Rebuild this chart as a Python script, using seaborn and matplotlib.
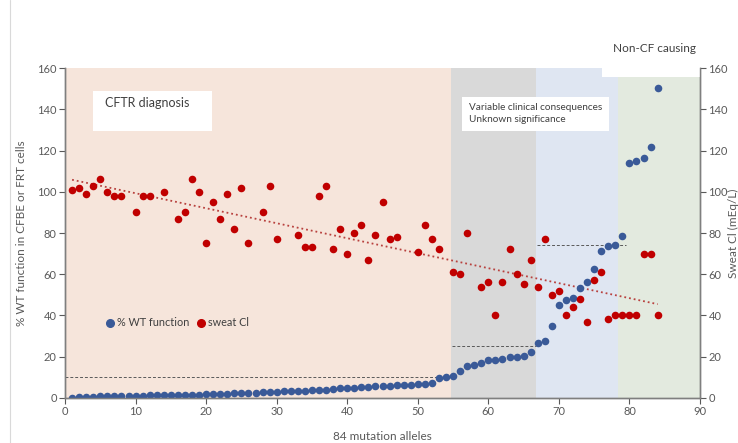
import numpy as np
import pandas as pd
import matplotlib
matplotlib.use("Agg")
import matplotlib.pyplot as plt
from matplotlib.patches import Rectangle
from matplotlib.lines import Line2D
import seaborn as sns

# values
alleles = list(range(1, 85))
wt_function = [0.0, 0.2, 0.4, 0.5, 0.6, 0.7, 0.8, 0.8, 0.9, 0.9,
               1.0, 1.1, 1.1, 1.2, 1.2, 1.3, 1.3, 1.4, 1.5, 1.6,
               1.8, 1.9, 2.0, 2.1, 2.2, 2.4, 2.5, 2.6, 2.8, 3.0,
               3.1, 3.2, 3.4, 3.4, 3.6, 3.7, 3.9, 4.2, 4.5, 4.7,
               4.9, 5.0, 5.3, 5.5, 5.7, 5.8, 6.0, 6.1, 6.3, 6.5,
               6.6, 7.3, 9.5, 10.0, 10.5, 12.9, 15.2, 15.9, 17.0, 18.1,
               18.4, 18.9, 19.7, 19.9, 20.4, 22.3, 26.4, 27.5, 34.6, 44.8,
               47.4, 48.4, 53.1, 56.1, 62.3, 71.2, 73.6, 74.4, 78.6, 113.8,
               115.0, 116.2, 122.0, 150.3]

sweat_x = [1, 2, 3, 4, 5, 6, 7, 8, 10, 11, 12, 14, 16, 17, 18, 19, 20, 21,
           22, 23, 24, 25, 26, 28, 29, 30, 33, 34, 35, 36, 37, 38, 39, 40,
           41, 42, 43, 44, 45, 46, 47, 50, 51, 52, 53, 55, 56, 57, 59, 60,
           61, 62, 63, 64, 65, 66, 67, 68, 69, 70, 71, 72, 73, 74, 75, 76,
           77, 78, 79, 80, 81, 82, 83, 84]
sweat_cl = [101, 102, 99, 103, 106, 100, 98, 98, 90, 98, 98, 100, 87, 90,
            106, 100, 75, 95, 87, 99, 82, 102, 75, 90, 103, 77, 79, 73, 73,
            98, 103, 72, 82, 70, 80, 84, 67, 79, 95, 77, 78, 71, 84, 77,
            72, 61, 60, 80, 54, 56, 40, 56, 72, 60, 55, 67, 54, 77, 50, 52,
            40, 44, 48, 37, 57, 61, 38, 40, 40, 40, 40, 70, 70, 40]

# shaded zones and threshold lines
zone_edges = [0, 54.7, 66.8, 78.4, 90]
zone_colors = ["#F6E5DB", "#D9D9D9", "#DFE6F2", "#E3EADF"]
thresh_y = [10, 25, 74]
thresh_start = [0, 54.9, 66.9]
thresh_end = [53, 66.8, 79.5]

wt_df = pd.DataFrame({"allele": alleles, "wt": wt_function})
cl_df = pd.DataFrame({"allele": sweat_x, "cl": sweat_cl})

sns.set_style("white")
plt.rcParams["font.family"] = ["Lato", "DejaVu Sans"]
grey_txt = "#595959"

fig = plt.figure(figsize=(7.38, 4.43), dpi=100)
ax = fig.add_axes([0.0881, 0.1022, 0.8604, 0.7436])

for i in range(len(zone_colors)):
    ax.axvspan(zone_edges[i], zone_edges[i + 1], color=zone_colors[i], lw=0, zorder=0)

ax.hlines(thresh_y, thresh_start, thresh_end, colors="#595959",
          linestyles=(0, (3, 2)), linewidth=0.7, zorder=1)

sns.regplot(data=cl_df, x="allele", y="cl", ax=ax, scatter=False, ci=None,
            color="#B8413E", line_kws={"linestyle": ":", "linewidth": 1.3, "zorder": 2})

sns.scatterplot(data=wt_df, x="allele", y="wt", ax=ax, color="#3A5A98",
                s=30, linewidth=0, zorder=3)
sns.scatterplot(data=cl_df, x="allele", y="cl", ax=ax, color="#C00000",
                s=30, linewidth=0, zorder=3)

ax.set_xlim(0, 90)
ax.set_ylim(0, 160)
ax.set_xticks(range(0, 91, 10))
ax.set_yticks(range(0, 161, 20))
ax.set_xlabel("84 mutation alleles", fontsize=8.5, color=grey_txt)
ax.xaxis.set_label_coords(0.5, -0.119)
ax.xaxis.label.set_va("center")
ax.set_ylabel("% WT function in CFBE or FRT cells", fontsize=8.5, color=grey_txt)
ax.yaxis.set_label_coords(-0.068, 0.5)
ax.yaxis.label.set_va("center")

ax2 = ax.twinx()
ax2.set_ylim(0, 160)
ax2.set_yticks(range(0, 161, 20))
ax2.set_ylabel("Sweat Cl (mEq/L)", fontsize=8.5, color=grey_txt)
ax2.yaxis.set_label_coords(1.052, 0.5)
ax2.yaxis.label.set_va("center")

for a in (ax, ax2):
    a.tick_params(axis="both", labelsize=8, colors=grey_txt, length=4, width=0.8,
                  direction="out", pad=2)
    a.spines["top"].set_visible(False)
    for s in ("left", "right", "bottom"):
        a.spines[s].set_color("#7F7F7F")
        a.spines[s].set_linewidth(1.0)
ax.tick_params(axis="x", bottom=True)
ax.tick_params(axis="y", left=True)
ax2.tick_params(axis="y", right=True)

# text boxes
ax.add_patch(Rectangle((4.0, 129.5), 16.8, 19.4, fc="white", ec="none", zorder=4))
ax.text(5.7, 143, "CFTR diagnosis", fontsize=9, color="#404040", va="center", zorder=5)

ax.add_patch(Rectangle((56.3, 129.5), 20.8, 16.6, fc="white", ec="none", zorder=4))
ax.text(57.3, 141.1, "Variable clinical consequences", fontsize=7.2, color="#404040",
        va="center", zorder=5)
ax.text(57.3, 135.3, "Unknown significance", fontsize=7.2, color="#404040",
        va="center", zorder=5)

ax.add_patch(Rectangle((76.1, 155.8), 13.9, 6, fc="white", ec="none", zorder=4, clip_on=False))
ax.text(83.5, 169.8, "Non-CF causing", fontsize=8.5, color="#404040",
        ha="center", va="center", clip_on=False)

handles = [Line2D([], [], marker="o", ls="", color="#3A5A98", markersize=5.5),
           Line2D([], [], marker="o", ls="", color="#C00000", markersize=5.5)]
ax.legend(handles, ["% WT function", "sweat Cl"], loc="center left",
          bbox_to_anchor=(0.053, 0.227), ncol=2, frameon=False, fontsize=7.8,
          handlelength=0.7, handletextpad=0.3, columnspacing=0.7,
          labelcolor="#404040", borderpad=0.2)

fig.add_artist(Line2D([10 / 738, 10 / 738], [0, 1], color="#D9D9D9", lw=0.8))

fig.savefig("out.png", dpi=100)
